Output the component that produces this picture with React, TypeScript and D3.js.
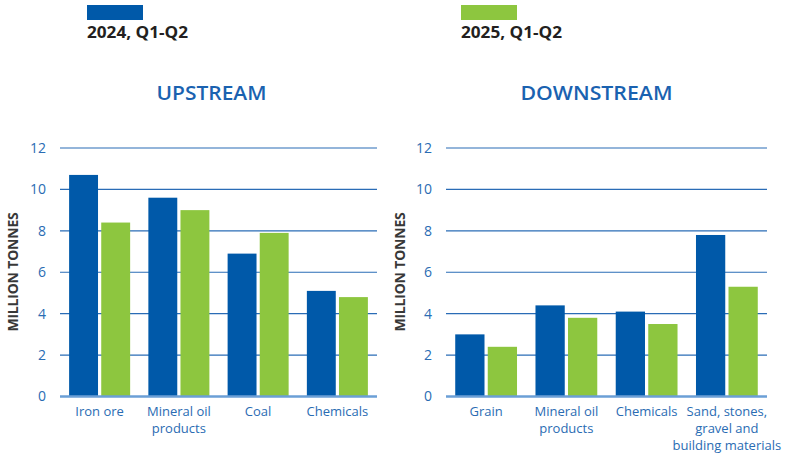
import React from "react";
import * as d3 from "d3";

const seriesNames = ["2024, Q1-Q2", "2025, Q1-Q2"];
const seriesColors = ["#0059a9", "#8dc63f"];

const upCategories = [["Iron ore"], ["Mineral oil", "products"], ["Coal"], ["Chemicals"]];
const up2024 = [10.7, 9.6, 6.9, 5.1];
const up2025 = [8.4, 9.0, 7.9, 4.8];

const downCategories = [["Grain"], ["Mineral oil", "products"], ["Chemicals"], ["Sand, stones,", "gravel and", "building materials"]];
const down2024 = [3.0, 4.4, 4.1, 7.8];
const down2025 = [2.4, 3.8, 3.5, 5.3];

const yTicks = [0, 2, 4, 6, 8, 10, 12];

const FONT = "'Open Sans', Lato, sans-serif";
const TICK_BLUE = "#2a6cb3";

function Panel({ title, titleX, titleW, categories, a, b, x0, x1, axisX, ytitleX }) {
  const y = d3.scaleLinear().domain([0, 12]).range([396.5, 148]);
  const labels = categories.map((c) => c.join("|"));
  const xb = d3.scaleBand().domain(labels).range([x0, x1]).paddingInner(0.23).paddingOuter(0.115);
  const xs = d3.scaleBand().domain(["0", "1"]).range([0, xb.bandwidth()]).paddingInner(0.1);
  const vals = [a, b];
  return (
    <g>
      <text
        x={titleX}
        y={99.5}
        textAnchor="middle"
        fontFamily={FONT}
        fontWeight={600}
        fontSize={20}
        fill="#1a62b0"
        textLength={titleW}
        lengthAdjust="spacingAndGlyphs"
      >
        {title}
      </text>
      {yTicks.map((t) => (
        <g key={t}>
          {t !== 0 && (
            <line x1={x0} x2={x1} y1={y(t)} y2={y(t)} stroke="#2a6cb6" strokeWidth={1.2} />
          )}
          <text x={axisX} y={y(t)} dy="0.35em" textAnchor="end" fontFamily={FONT} fontSize={14} fill={TICK_BLUE}>
            {t}
          </text>
        </g>
      ))}
      {labels.map((lab, i) =>
        vals.map((v, s) => (
          <rect
            key={lab + s}
            x={xb(lab) + xs(String(s))}
            y={y(v[i])}
            width={xs.bandwidth()}
            height={y(0) - y(v[i])}
            fill={seriesColors[s]}
          />
        ))
      )}
      <line x1={x0} x2={x1} y1={y(0)} y2={y(0)} stroke="#6b9fd6" strokeWidth={2.5} />
      {categories.map((lines, i) => (
        <text key={i} textAnchor="middle" fontFamily={FONT} fontSize={13} fill="#2a6cb3">
          {lines.map((l, j) => (
            <tspan key={j} x={xb(labels[i]) + xb.bandwidth() / 2} y={416 + j * 17}>
              {l}
            </tspan>
          ))}
        </text>
      ))}
      <text
        transform={`translate(${ytitleX},272) rotate(-90)`}
        textAnchor="middle"
        dy="0.35em"
        fontFamily={FONT}
        fontWeight={700}
        fontSize={14}
        fill="#383838"
        letterSpacing={-0.2}
      >
        MILLION TONNES
      </text>
    </g>
  );
}

export default function App() {
  return (
    <div style={{ position: "absolute", left: 0, top: 0 }}>
      <svg width={789} height={454} style={{ display: "block", background: "#fff" }}>
        {seriesNames.map((n, i) => {
          const lx = i === 0 ? 87 : 461;
          return (
            <g key={n}>
              <rect x={lx} y={5} width={56} height={15} fill={seriesColors[i]} />
              <text
                x={lx}
                y={38}
                fontFamily={FONT}
                fontWeight={700}
                fontSize={16}
                fill="#231f20"
                textLength={101}
                lengthAdjust="spacingAndGlyphs"
              >
                {n}
              </text>
            </g>
          );
        })}
        <Panel title="UPSTREAM" titleX={211.5} titleW={110} categories={upCategories} a={up2024} b={up2025} x0={60} x1={377} axisX={46} ytitleX={13} />
        <Panel title="DOWNSTREAM" titleX={596.5} titleW={152} categories={downCategories} a={down2024} b={down2025} x0={446} x1={767} axisX={432} ytitleX={400} />
      </svg>
    </div>
  );
}
